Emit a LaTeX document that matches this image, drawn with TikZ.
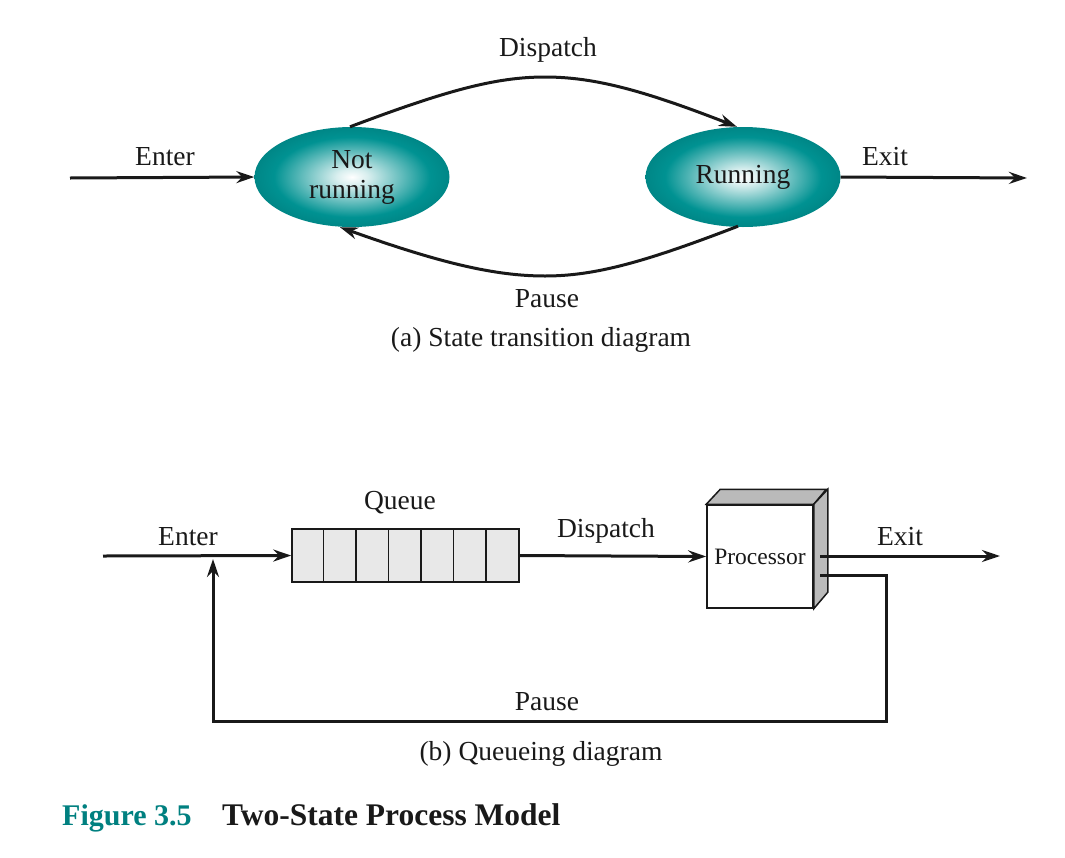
\documentclass[tikz,border=0pt]{standalone}
\usepackage{fontspec}
\setmainfont{Liberation Serif}
\usetikzlibrary{arrows.meta,shapes.geometric,calc}
\definecolor{tealc}{RGB}{0,146,146}
\definecolor{titleteal}{RGB}{0,128,128}
\definecolor{ink}{RGB}{25,25,25}
\pgfdeclareradialshading{ballteal}{\pgfpoint{0bp}{0bp}}{color(0bp)=(white); color(4bp)=(white!85!tealc); color(20bp)=(tealc); color(25bp)=(tealc!92!black); color(50bp)=(tealc!92!black)}
\begin{document}
\begin{tikzpicture}[x=1pt,y=-1pt,
  every node/.style={font=\fontsize{27.5}{30}\selectfont, text=ink},
  state/.style={ellipse, minimum width=195, minimum height=100, inner sep=0pt, shading=ballteal, align=center},
  conn/.style={line width=3pt, draw=ink, -{Stealth[length=18pt,width=12pt,inset=6pt]}},
  lbl/.style={inner sep=0pt},
  thin box/.style={draw=ink, line width=1.5pt}]
\useasboundingbox (0,0) rectangle (1065,857);

% (a) state transition diagram
\node[state] (nr) at (352,177) {Not\\running};
\node[state] (run) at (743,177) {Running};
\coordinate (inA) at (70,178);
\coordinate (outA) at (1027,178);
\coordinate (topA) at (545,77);
\coordinate (botA) at (545,276);
\draw[conn] (inA) -- (nr.west);
\draw[conn] (run.east) -- (outA);
\draw[conn] ($(nr.north)+(-2,0)$) .. controls (445,91) and (495,77) .. (topA)
  .. controls (595,77) and (645,91) .. ($(run.north)+(-6,0)$);
\draw[conn] ($(run.south)+(-5,-1)$) .. controls (645,262) and (595,276) .. (botA)
  .. controls (495,276) and (440,263) .. ($(nr.south)+(-12,0)$);
\node[lbl] (enterA) at (165,157) {Enter};
\node[lbl] (exitA) at (885,157) {Exit};
\node[lbl] (dispA) at (548,50) {Dispatch};
\node[lbl] (pauseA) at (547,299) {Pause};
\node[lbl] (capA) at (541,340) {(a) State transition diagram};

% (b) queueing diagram
\node[thin box, fill=black!9, minimum width=227, minimum height=53, inner sep=0pt] (q) at (405.5,555.5) {};
\foreach \i in {1,...,6}{
  \draw[thin box] ($(q.north west)+(\i*32.43,0)$) -- ($(q.south west)+(\i*32.43,0)$);
}
\node[lbl] (qlbl) at (400,503) {Queue};
% processor cube
\node[thin box, fill=white, minimum width=106, minimum height=103, inner sep=0pt] (p) at (760,556.5) {};
\draw[thin box, fill=black!27] (p.north west) -- ++(14,-15) -- ++(106,0) -- (p.north east) -- cycle;
\draw[thin box, fill=black!27] (p.north east) -- ++(14,-15) -- ++(0,103) -- (p.south east) -- cycle;
\node[inner sep=0pt, font=\fontsize{23.5}{26}\selectfont] (ptext) at (760,557) {Processor};

\coordinate (inB) at (103,556);
\coordinate (join) at (213,559);
\coordinate (exitStart) at (820,556);
\coordinate (outB) at (1000,556);
\coordinate (pauseStart) at (820,575);
\coordinate (pr) at (886,721);

\draw[conn] (inB) -- (q.west);
\draw[conn] (q.east) -- (p.west);
\draw[conn] (exitStart) -- (outB);
\draw[conn, line join=miter] (pauseStart) -| (pr) -| (join);

\node[lbl] (enterB) at (188,537) {Enter};
\node[lbl] (dispB) at (606,531) {Dispatch};
\node[lbl] (exitB) at (900,537) {Exit};
\node[lbl] (pauseB) at (547,702) {Pause};
\node[lbl] (capB) at (541,754) {(b) Queueing diagram};

% figure title
\node[lbl, anchor=base west, font=\fontsize{30}{34}\selectfont\bfseries, text=titleteal] (fig) at (62,825) {Figure 3.5};
\node[lbl, anchor=base west, font=\fontsize{31.5}{34}\selectfont\bfseries, text=ink] (title) at (222,825) {Two-State Process Model};
\end{tikzpicture}
\end{document}
